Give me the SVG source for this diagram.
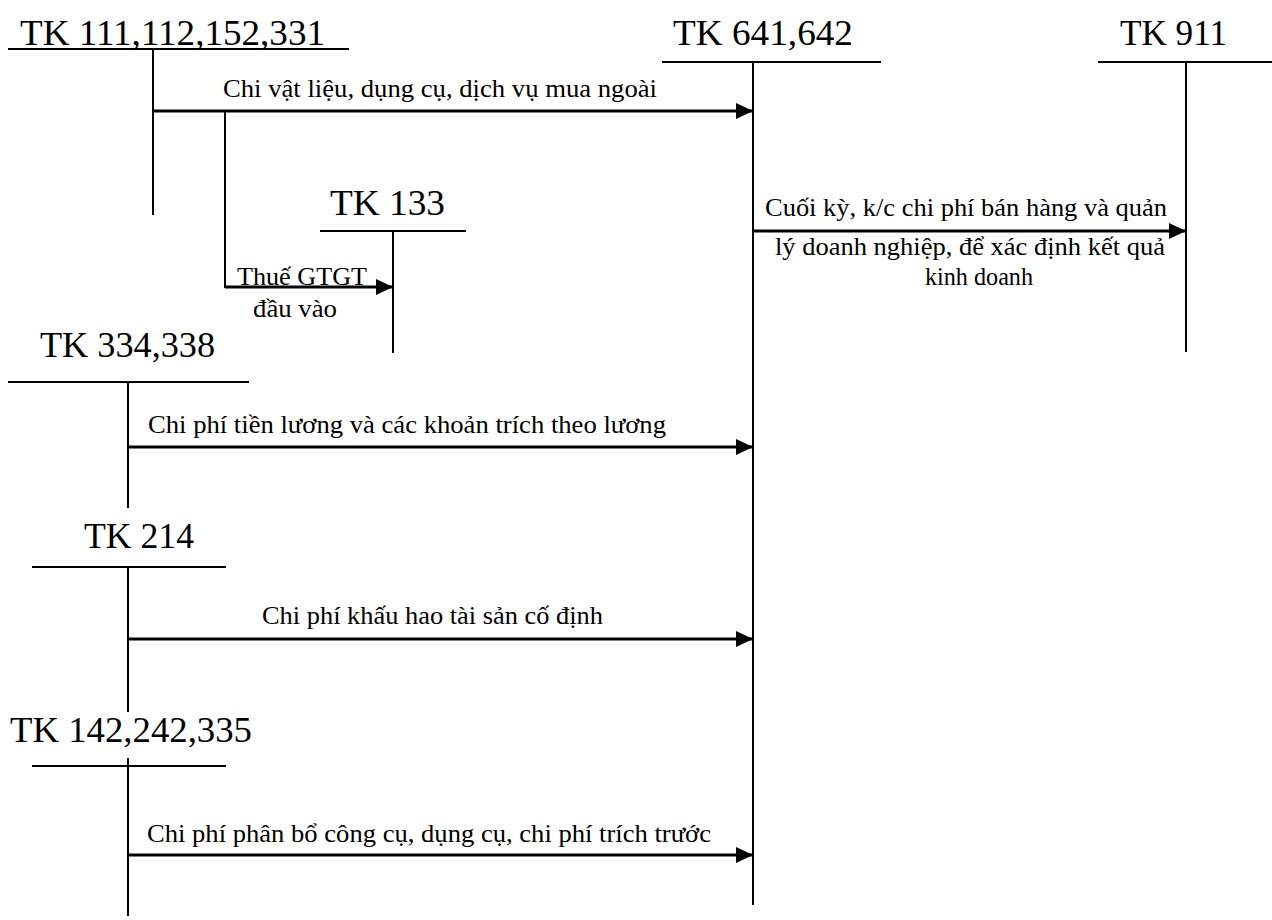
<svg xmlns="http://www.w3.org/2000/svg" width="1272" height="920" viewBox="0 0 1272 920">
<style>
.acc{font-family:"Liberation Serif","Times New Roman",serif;font-size:36px;fill:#000}
.lbl{font-family:"Liberation Serif","Times New Roman",serif;font-size:25.5px;fill:#000}
.t{stroke:#000;stroke-width:2;fill:none}
.a{stroke:#000;stroke-width:3;fill:none;marker-end:url(#ah)}
.b{stroke:#000;stroke-width:2;fill:none}
</style>
<defs>
<marker id="ah" markerUnits="userSpaceOnUse" markerWidth="18" markerHeight="16" refX="17" refY="8" orient="auto">
<path d="M0,0 L17,8 L0,16 Z" fill="#000"/>
</marker>
</defs>
<rect width="1272" height="920" fill="#fff"/>

<g id="tk111">
<text class="acc" x="20" y="45" textLength="305" lengthAdjust="spacingAndGlyphs">TK 111,112,152,331</text>
<line class="t" x1="8" y1="49" x2="349" y2="49"/>
<line class="t" x1="153" y1="49" x2="153" y2="215"/>
</g>
<g id="tk641">
<text class="acc" x="673" y="45" textLength="180" lengthAdjust="spacingAndGlyphs">TK 641,642</text>
<line class="t" x1="662" y1="62" x2="881" y2="62"/>
<line class="t" x1="753" y1="62" x2="753" y2="905"/>
</g>
<g id="tk911">
<text class="acc" x="1120" y="45" textLength="107" lengthAdjust="spacingAndGlyphs">TK 911</text>
<line class="t" x1="1098" y1="62" x2="1272" y2="62"/>
<line class="t" x1="1186" y1="62" x2="1186" y2="352"/>
</g>
<g id="tk133">
<text class="acc" x="330" y="215" textLength="115" lengthAdjust="spacingAndGlyphs">TK 133</text>
<line class="t" x1="320" y1="231" x2="466" y2="231"/>
<line class="t" x1="393" y1="231" x2="393" y2="353"/>
</g>
<g id="tk334">
<text class="acc" x="40" y="357" textLength="175" lengthAdjust="spacingAndGlyphs">TK 334,338</text>
<line class="t" x1="8" y1="382" x2="249" y2="382"/>
<line class="t" x1="128" y1="382" x2="128" y2="508"/>
</g>
<g id="tk214">
<text class="acc" x="84" y="548" textLength="110" lengthAdjust="spacingAndGlyphs">TK 214</text>
<line class="t" x1="32" y1="567" x2="226" y2="567"/>
<line class="t" x1="128" y1="567" x2="128" y2="712"/>
</g>
<g id="tk142">
<text class="acc" x="10" y="742" textLength="242" lengthAdjust="spacingAndGlyphs">TK 142,242,335</text>
<line class="t" x1="32" y1="766" x2="226" y2="766"/>
<line class="t" x1="128" y1="758" x2="128" y2="916"/>
</g>

<g id="connectors">
<line class="a" x1="153" y1="111" x2="753" y2="111"/>
<text class="lbl" x="223" y="97" textLength="434" lengthAdjust="spacingAndGlyphs">Chi vật liệu, dụng cụ, dịch vụ mua ngoài</text>

<polyline class="b" points="225,111 225,287 376,287"/>
<line class="a" x1="225" y1="287" x2="393" y2="287"/>
<text class="lbl" x="237" y="285" textLength="130" lengthAdjust="spacingAndGlyphs">Thuế GTGT</text>
<text class="lbl" x="253" y="317" textLength="84" lengthAdjust="spacingAndGlyphs">đầu vào</text>

<line class="a" x1="753" y1="231" x2="1186" y2="231"/>
<text class="lbl" x="765" y="216" textLength="402" lengthAdjust="spacingAndGlyphs">Cuối kỳ, k/c chi phí bán hàng và quản</text>
<text class="lbl" x="775" y="255" textLength="390" lengthAdjust="spacingAndGlyphs">lý doanh nghiệp, để xác định kết quả</text>
<text class="lbl" x="925" y="285" textLength="108" lengthAdjust="spacingAndGlyphs">kinh doanh</text>

<line class="a" x1="128" y1="447" x2="753" y2="447"/>
<text class="lbl" x="148" y="433" textLength="518" lengthAdjust="spacingAndGlyphs">Chi phí tiền lương và các khoản trích theo lương</text>

<line class="a" x1="128" y1="639" x2="753" y2="639"/>
<text class="lbl" x="262" y="624" textLength="341" lengthAdjust="spacingAndGlyphs">Chi phí khấu hao tài sản cố định</text>

<line class="a" x1="128" y1="855" x2="753" y2="855"/>
<text class="lbl" x="147" y="842" textLength="564" lengthAdjust="spacingAndGlyphs">Chi phí phân bổ công cụ, dụng cụ, chi phí trích trước</text>
</g>
</svg>
